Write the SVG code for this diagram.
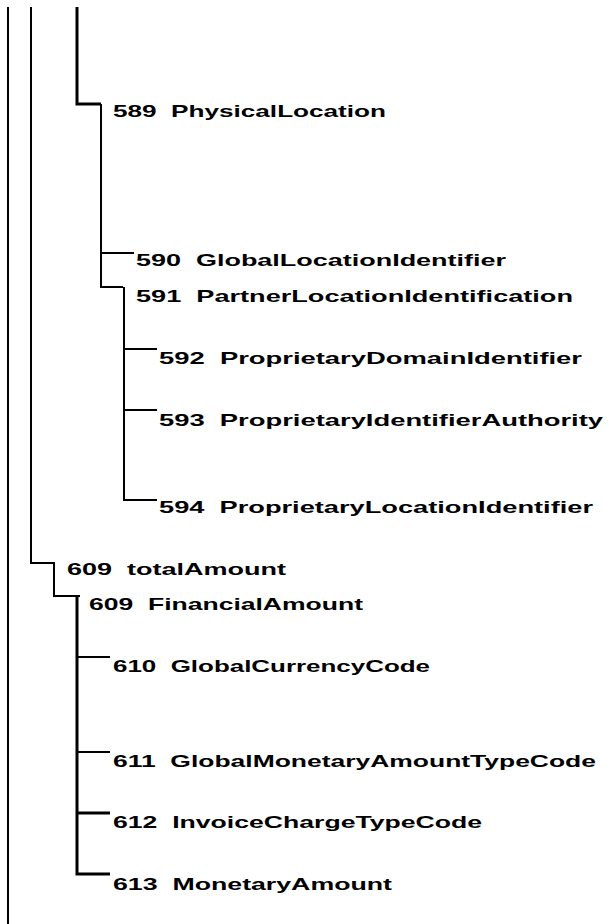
<svg xmlns="http://www.w3.org/2000/svg" width="610" height="924" viewBox="0 0 610 924">
<style>
.t{font-family:"Liberation Sans",Arial,sans-serif;font-weight:bold;font-size:17px;fill:#000;white-space:pre}
.l{stroke:#000;stroke-width:2;fill:none}
.k{stroke:#000;stroke-width:3;fill:none}
</style>
<rect width="610" height="924" fill="#fff"/>
<g id="connectors">
<line class="l" x1="8" y1="7" x2="8" y2="924"/>
<polyline class="l" points="31,7 31,563 55,563"/>
<polyline class="k" points="77,7 77,104 101,104"/>
<polyline class="l" points="101,104 101,287 123,287"/>
<line class="l" x1="101" y1="253" x2="134" y2="253"/>
<polyline class="l" points="124,287 124,500 157,500"/>
<line class="l" x1="124" y1="349" x2="157" y2="349"/>
<line class="l" x1="124" y1="410" x2="157" y2="410"/>
<polyline class="l" points="54,563 54,596 80,596"/>
<polyline class="k" points="77,596 77,874 110,874"/>
<line class="l" x1="77" y1="657" x2="110" y2="657"/>
<line class="l" x1="77" y1="752" x2="110" y2="752"/>
<line class="k" x1="77" y1="813" x2="110" y2="813"/>
</g>
<g id="n589"><text class="t" x="113" y="117" textLength="273" lengthAdjust="spacingAndGlyphs">589  PhysicalLocation</text></g>
<g id="n590"><text class="t" x="136" y="266" textLength="370" lengthAdjust="spacingAndGlyphs">590  GlobalLocationIdentifier</text></g>
<g id="n591"><text class="t" x="136" y="302" textLength="437" lengthAdjust="spacingAndGlyphs">591  PartnerLocationIdentification</text></g>
<g id="n592"><text class="t" x="159" y="364" textLength="423" lengthAdjust="spacingAndGlyphs">592  ProprietaryDomainIdentifier</text></g>
<g id="n593"><text class="t" x="159" y="426" textLength="444" lengthAdjust="spacingAndGlyphs">593  ProprietaryIdentifierAuthority</text></g>
<g id="n594"><text class="t" x="159" y="513" textLength="434" lengthAdjust="spacingAndGlyphs">594  ProprietaryLocationIdentifier</text></g>
<g id="n609a"><text class="t" x="67" y="575" textLength="219" lengthAdjust="spacingAndGlyphs">609  totalAmount</text></g>
<g id="n609b"><text class="t" x="89" y="610" textLength="274" lengthAdjust="spacingAndGlyphs">609  FinancialAmount</text></g>
<g id="n610"><text class="t" x="113" y="672" textLength="317" lengthAdjust="spacingAndGlyphs">610  GlobalCurrencyCode</text></g>
<g id="n611"><text class="t" x="113" y="767" textLength="483" lengthAdjust="spacingAndGlyphs">611  GlobalMonetaryAmountTypeCode</text></g>
<g id="n612"><text class="t" x="113" y="828" textLength="369" lengthAdjust="spacingAndGlyphs">612  InvoiceChargeTypeCode</text></g>
<g id="n613"><text class="t" x="113" y="890" textLength="279" lengthAdjust="spacingAndGlyphs">613  MonetaryAmount</text></g>
</svg>
